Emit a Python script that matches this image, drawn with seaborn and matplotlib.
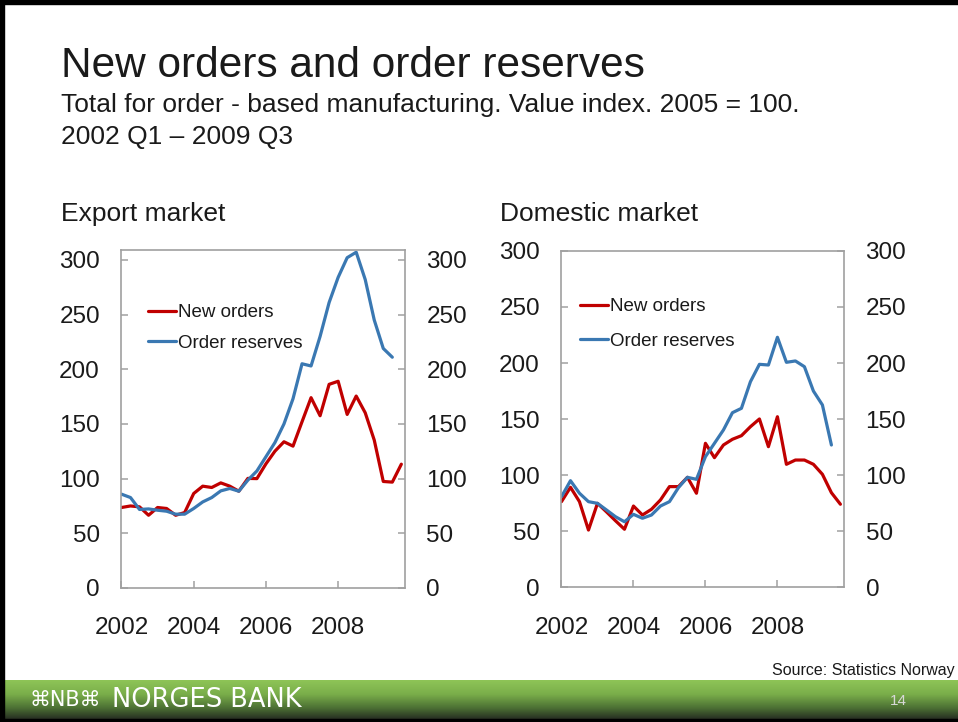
import numpy as np
import pandas as pd
import matplotlib.pyplot as plt
import seaborn as sns
from matplotlib.colors import LinearSegmentedColormap
from matplotlib.patches import Rectangle

# --- Data (value index, 2005 = 100, quarterly from 2002) ---
export_new_orders = [73.6, 75, 74.2, 66.5, 73.6, 72.7, 66.5, 69, 86.4, 93.1, 91.9, 96.1,
                     93.1, 88.5, 100.2, 100, 113.5, 125.1, 133.7, 129.7, 152, 174, 157.5,
                     186.2, 189, 158.7, 175.5, 160.2, 135.2, 97.4, 96.8, 113.2]
export_order_reserves = [85.8, 82.7, 71.8, 72.3, 71.1, 70.2, 67.5, 67.5, 72.7, 78.7, 82.7,
                         88.8, 91, 88.5, 98.6, 107, 120, 133, 150, 173, 205, 203, 230, 261,
                         284, 302, 307, 282, 245, 219, 211]
domestic_new_orders = [76.5, 89.3, 76.5, 51.2, 75, 67.4, 59.5, 51.9, 72.6, 64.6, 69.7, 78,
                       89.9, 89.9, 98.2, 84, 128.5, 115.7, 127, 132.1, 135.3, 143.3, 150.2,
                       125.5, 152.2, 109.8, 113.6, 113.6, 109.8, 100.9, 84.5, 74.2]
domestic_order_reserves = [80.9, 95.2, 84, 76.5, 75, 69.1, 63.1, 58.6, 65.2, 61.7, 64.6,
                           72.6, 76.5, 89, 98.2, 96.4, 116.6, 128.5, 140.4, 155.8, 159.7,
                           183.4, 198.9, 198.3, 223, 200.7, 201.9, 196.8, 175.1, 162.7, 127]

series_names = ['New orders', 'Order reserves']
series_colors = ['#C00000', '#3A78B2']
panel_titles = ['Export market', 'Domestic market']
year_ticks = [2002, 2004, 2006, 2008]
value_ticks = [0, 50, 100, 150, 200, 250, 300]
START_YEAR = 2002

TEXT = '#1a1a1a'
SPINE = '#A0A0A0'


def to_long(new_orders, reserves):
    frames = []
    for name, vals in zip(series_names, [new_orders, reserves]):
        frames.append(pd.DataFrame({
            'year': START_YEAR + np.arange(len(vals)) / 4,
            'value': vals,
            'series': name,
        }))
    return pd.concat(frames, ignore_index=True)


sns.set_theme(style='white')
plt.rcParams['font.family'] = ['Liberation Sans', 'DejaVu Sans']

fig = plt.figure(figsize=(9.58, 7.22), dpi=100)
fig.patch.set_facecolor('white')

# --- Headings ---
fig.text(0.0637, 0.8934, 'New orders and order reserves', fontsize=30.5, color=TEXT, va='baseline')
fig.text(0.0637, 0.8442, 'Total for order - based manufacturing. Value index. 2005 = 100.',
         fontsize=19, color=TEXT, va='baseline')
fig.text(0.0637, 0.7999, '2002 Q1 \u2013 2009 Q3', fontsize=19, color=TEXT, va='baseline')

# --- Panels ---
panels = [
    (panel_titles[0], export_new_orders, export_order_reserves,
     [0.1268, 0.1856, 0.2959, 0.4681], 309, 0.0637, (0.0935, 0.840), 0.71),
    (panel_titles[1], domestic_new_orders, domestic_order_reserves,
     [0.5861, 0.1863, 0.2949, 0.4662], 300, 0.5219, (0.0655, 0.860), 0.94),
]

palette = dict(zip(series_names, series_colors))
for title, new_orders, reserves, rect, ymax, title_x, leg_pos, leg_space in panels:
    ax = fig.add_axes(rect)
    df = to_long(new_orders, reserves)
    sns.lineplot(data=df, x='year', y='value', hue='series', palette=palette,
                 hue_order=series_names, linewidth=2.3, legend=False, ax=ax)
    ax.set_xlim(2002, 2009.85)
    ax.set_ylim(0, ymax)
    ax.set_xticks(year_ticks)
    ax.set_xticklabels([str(y) for y in year_ticks])
    ax.set_yticks(value_ticks)
    ax.set_yticklabels([str(v) for v in value_ticks])
    ax.set_xlabel('')
    ax.set_ylabel('')
    for sp in ax.spines.values():
        sp.set_color(SPINE)
        sp.set_linewidth(1.2)
    ax.tick_params(axis='both', direction='in', length=5, width=1.1, color=SPINE,
                   labelsize=17.5, labelcolor=TEXT)
    ax.tick_params(axis='y', left=True, right=True, labelleft=True, labelright=True, pad=15.5)
    ax.tick_params(axis='x', bottom=True, pad=21)
    ax.legend(ax.lines[:2], series_names, loc='upper left', bbox_to_anchor=leg_pos,
              frameon=False, fontsize=13.5, handlelength=1.5, handletextpad=0.1,
              labelspacing=leg_space, borderpad=0, borderaxespad=0, labelcolor=TEXT)
    fig.text(title_x, 0.6939, title, fontsize=19, color=TEXT, va='baseline')

# --- Footer ---
fig.text(0.9969, 0.072, 'Source: Statistics Norway', fontsize=11.5, color=TEXT,
         ha='right', va='center')

footer = fig.add_axes([0, 0, 1, 42 / 722])
green = LinearSegmentedColormap.from_list('nb', ['#8EC457', '#7AAE4A', '#4C7034', '#1E1E1E'])
footer.imshow(np.linspace(0, 1, 64).reshape(-1, 1), aspect='auto', cmap=green,
              extent=[0, 1, 0, 1])
footer.set_axis_off()
fig.text(30 / 958, 0.0305, '\u2318NB\u2318', fontsize=15, color='white', va='center',
         family=['DejaVu Sans'])
fig.text(112 / 958, 0.0305, 'NORGES BANK', fontsize=18.5, color='white', va='center',
         family=['DejaVu Sans'])
fig.text(898 / 958, 0.0285, '14', fontsize=11, color='#d8d8d8', ha='center', va='center')

# --- Slide frame ---
fig.add_artist(Rectangle((0, 0), 4 / 958, 1, transform=fig.transFigure, color='black', zorder=10))
fig.add_artist(Rectangle((0, 1 - 4 / 722), 1, 4 / 722, transform=fig.transFigure,
                         color='black', zorder=10))
fig.add_artist(Rectangle((0, 0), 1, 3 / 722, transform=fig.transFigure, color='black', zorder=10))

fig.savefig('out.png', dpi=100)
